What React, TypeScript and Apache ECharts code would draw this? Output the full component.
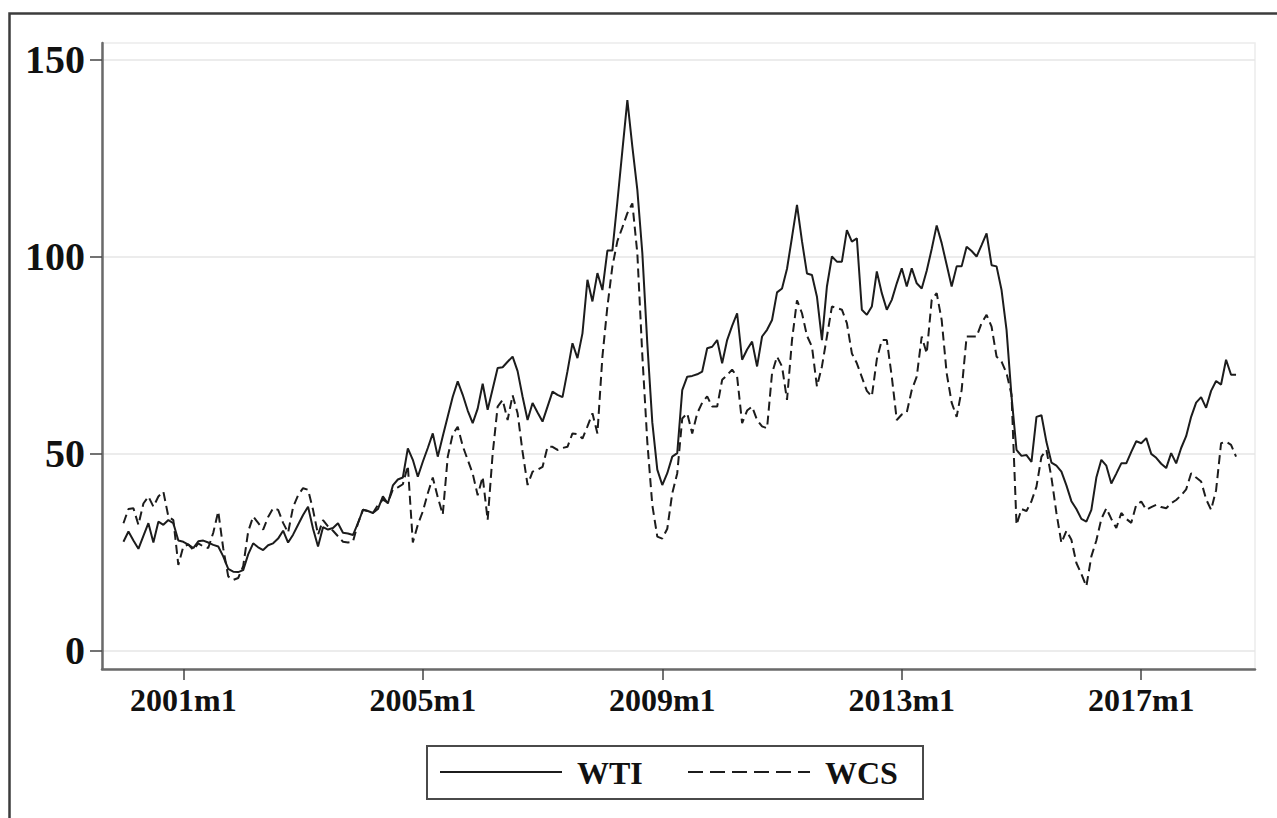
import React, { useEffect, useRef } from "react";
import * as echarts from "echarts";

// Monthly prices, 2000m1 .. 2018m8 (224 months)
const START_YEAR = 2000;
const SERIES_NAMES = ["WTI", "WCS"];

const wti: number[] = [
  27.7, 30.3, 28.0, 25.9, 29.2, 32.4, 27.5, 32.8, 32.0, 33.2, 32.4, 28.0,
  27.7, 27.0, 26.1, 27.8, 28.0, 27.5, 26.9, 26.5, 24.0, 20.8, 20.1, 20.0,
  20.5, 24.5, 27.3, 26.3, 25.6, 26.8, 27.3, 28.5, 30.5, 27.5, 29.5, 32.0,
  34.5, 36.6, 31.0, 26.5, 31.4, 30.8, 31.2, 32.4, 30.0, 29.8, 29.4, 32.4,
  35.8, 35.5, 35.0, 36.0, 39.2, 37.4, 42.0, 43.5, 44.0, 51.4, 48.5, 44.2,
  48.0, 51.5, 55.2, 49.3, 54.5, 59.5, 64.5, 68.4, 65.0, 61.0, 57.8, 61.5,
  67.8, 61.2, 66.5, 71.8, 72.0, 73.4, 74.7, 71.0, 64.5, 58.6, 62.9, 60.5,
  58.2, 62.0, 65.8, 65.0, 64.4, 71.0, 78.1, 74.3, 80.6, 94.2, 88.7, 95.9,
  91.6, 101.6, 101.6, 114.0, 127.0, 139.8, 128.0, 117.0, 101.0, 78.0, 58.0, 46.0,
  42.1, 45.1, 49.3, 50.2, 66.2, 69.6, 69.8, 70.2, 70.9, 76.8, 77.2, 78.9,
  73.0, 78.9, 82.5, 85.7, 73.9, 76.5, 78.5, 72.2, 79.8, 81.5, 84.0, 91.0,
  92.0, 97.0, 105.0, 113.2, 104.0, 95.8, 95.4, 89.9, 78.9, 92.5, 100.1, 98.8,
  98.8, 106.8, 103.9, 104.7, 86.6, 85.3, 87.4, 96.3, 90.8, 86.6, 89.1, 93.3,
  97.1, 92.5, 97.1, 93.3, 92.0, 96.5, 102.0, 108.0, 103.5, 98.0, 92.5, 97.6,
  97.6, 102.6, 101.5, 100.1, 103.0, 106.0, 97.9, 97.6, 91.6, 81.5, 64.6, 51.0,
  49.5, 49.7, 48.0, 59.4, 59.8, 53.0, 47.8, 47.0, 45.5, 42.0, 38.0, 36.0,
  33.5, 32.8, 35.8, 44.0, 48.5, 47.0, 42.5, 45.0, 47.6, 47.6, 50.5, 53.2,
  52.7, 54.0, 50.0, 49.0, 47.5, 46.4, 50.2, 47.6, 51.5, 54.5, 59.4, 63.0,
  64.4, 61.7, 66.0, 68.5, 67.6, 73.9, 70.1, 70.1,
];

const wcs: number[] = [
  32.4, 36.0, 36.2, 32.0, 37.4, 39.2, 36.6, 39.2, 40.4, 34.1, 33.2, 21.8,
  26.5, 27.0, 25.6, 27.3, 26.5, 26.1, 30.0, 35.4, 26.0, 18.9, 18.0, 18.5,
  21.5, 30.3, 34.1, 32.5, 30.8, 34.0, 36.2, 35.8, 32.5, 30.0, 36.5, 39.5,
  41.3, 40.9, 35.8, 29.5, 33.2, 31.6, 30.5, 29.1, 27.7, 27.5, 27.7, 32.4,
  35.8, 35.5, 35.0, 37.0, 38.4, 37.6, 41.0, 41.5, 42.3, 47.0, 27.5, 32.0,
  35.4, 40.0, 44.0, 39.0, 34.6, 49.3, 55.0, 56.9, 52.0, 48.5, 45.0, 39.5,
  44.2, 33.2, 50.0, 62.0, 63.7, 58.6, 64.9, 60.3, 50.5, 42.1, 45.5, 46.0,
  46.7, 51.8, 51.8, 51.0, 51.5, 51.8, 55.2, 55.0, 53.9, 57.0, 60.3, 55.2,
  74.7, 87.4, 97.6, 104.0, 107.5, 111.1, 113.6, 100.9, 75.0, 53.0, 37.0, 29.0,
  28.5, 31.0, 40.0, 45.1, 59.0, 60.3, 55.2, 60.3, 63.0, 64.6, 62.0, 62.0,
  68.8, 70.0, 71.4, 69.6, 57.8, 61.0, 62.0, 58.6, 57.0, 56.5, 70.5, 74.7,
  72.2, 63.7, 78.9, 89.0, 85.7, 80.0, 77.2, 67.1, 72.2, 79.8, 87.4, 87.0,
  86.6, 83.2, 75.5, 73.0, 69.5, 66.0, 64.6, 74.0, 78.9, 78.9, 69.6, 58.6,
  60.0, 60.5, 66.2, 69.6, 79.8, 75.5, 89.1, 90.8, 84.0, 70.5, 63.0, 59.4,
  66.2, 79.8, 79.8, 79.8, 83.2, 85.3, 82.3, 74.7, 73.4, 70.5, 65.0, 32.0,
  36.0, 35.5, 38.0, 41.7, 49.3, 51.0, 44.0, 35.0, 27.4, 30.5, 28.2, 22.3,
  19.5, 16.4, 24.0, 28.0, 33.5, 36.2, 33.5, 31.2, 35.0, 33.5, 32.5, 37.1,
  37.9, 35.8, 36.5, 37.1, 36.5, 36.2, 37.5, 38.3, 39.5, 41.0, 45.1, 44.0,
  43.0, 38.5, 35.8, 40.8, 52.7, 53.1, 52.3, 49.3,
];

// Tick positions: months since 2000m1 (2001m1, 2005m1, 2009m1, 2013m1, 2017m1)
const X_TICKS = [12, 60, 108, 156, 204];
const Y_TICKS = [0, 50, 100, 150];

const FONT = '"Liberation Serif", "Times New Roman", serif';

function monthLabel(i: number): string {
  const y = START_YEAR + Math.floor(i / 12);
  const m = (i % 12) + 1;
  return `${y}m${m}`;
}

export default function App() {
  const ref = useRef<HTMLDivElement>(null);

  useEffect(() => {
    if (!ref.current) return;
    const chart = echarts.init(ref.current, undefined, { renderer: "svg" });

    const toPairs = (arr: number[]) => arr.map((v, i) => [i, v]);

    const option: any = {
      animation: false,
      backgroundColor: "#ffffff",
      grid: {
        left: 102,
        right: 22,
        top: 43,
        bottom: 149,
        show: true,
        borderColor: "#ececec",
        borderWidth: 1.5,
        backgroundColor: "transparent",
        containLabel: false,
        outerBoundsMode: "none",
      },
      xAxis: {
        type: "value",
        min: -4.3,
        max: 226.8,
        axisLine: { show: true, onZero: false, lineStyle: { color: "#6a6a6a", width: 2.5 } },
        axisTick: {
          show: true,
          length: 11,
          customValues: X_TICKS,
          lineStyle: { color: "#444", width: 1.5 },
        },
        axisLabel: {
          customValues: X_TICKS,
          formatter: (v: number) => monthLabel(Math.round(v)),
          fontFamily: FONT,
          fontWeight: "bold",
          fontSize: 32,
          color: "#111",
          margin: 15,
        },
        splitLine: { show: false },
      },
      yAxis: {
        type: "value",
        min: -4.6,
        max: 154.3,
        axisLine: { show: true, onZero: false, lineStyle: { color: "#6a6a6a", width: 2.5 } },
        axisTick: {
          show: true,
          length: 12,
          customValues: Y_TICKS,
          lineStyle: { color: "#444", width: 1.5 },
        },
        axisLabel: {
          customValues: Y_TICKS,
          fontFamily: FONT,
          fontWeight: "bold",
          fontSize: 40,
          color: "#111",
          margin: 17,
        },
        splitLine: { show: true, lineStyle: { color: "#e6e6e6", width: 1.5 } },
      },
      series: [
        {
          name: SERIES_NAMES[0],
          type: "line",
          data: toPairs(wti),
          symbol: "none",
          lineStyle: { color: "#1c1c1c", width: 2 },
          z: 3,
        },
        {
          name: SERIES_NAMES[1],
          type: "line",
          data: toPairs(wcs),
          symbol: "none",
          lineStyle: { color: "#1c1c1c", width: 2, type: [9, 5] },
          z: 2,
        },
      ],
      graphic: [
        {
          type: "rect",
          shape: { x: 9.5, y: 13.5, width: 1500, height: 1000 },
          style: { fill: "none", stroke: "#3c3c3c", lineWidth: 2.5 },
          silent: true,
        },
        {
          type: "group",
          children: [
            {
              type: "rect",
              shape: { x: 427, y: 746, width: 496, height: 53 },
              style: { fill: "#ffffff", stroke: "#4a4a4a", lineWidth: 2 },
            },
            {
              type: "line",
              shape: { x1: 440, y1: 772, x2: 562, y2: 772 },
              style: { stroke: "#1c1c1c", lineWidth: 2 },
            },
            {
              type: "text",
              x: 577,
              y: 773,
              style: {
                text: SERIES_NAMES[0],
                font: `bold 32px ${FONT}`,
                fill: "#111",
                verticalAlign: "middle",
                align: "left",
              },
            },
            {
              type: "line",
              shape: { x1: 688, y1: 772, x2: 810, y2: 772 },
              style: { stroke: "#1c1c1c", lineWidth: 2, lineDash: [15, 7] },
            },
            {
              type: "text",
              x: 825,
              y: 773,
              style: {
                text: SERIES_NAMES[1],
                font: `bold 32px ${FONT}`,
                fill: "#111",
                verticalAlign: "middle",
                align: "left",
              },
            },
          ],
        },
      ],
    };

    chart.setOption(option);
    return () => chart.dispose();
  }, []);

  return (
    <div
      ref={ref}
      style={{
        position: "fixed",
        left: 0,
        top: 0,
        width: 1277,
        height: 818,
        background: "#ffffff",
      }}
    />
  );
}
